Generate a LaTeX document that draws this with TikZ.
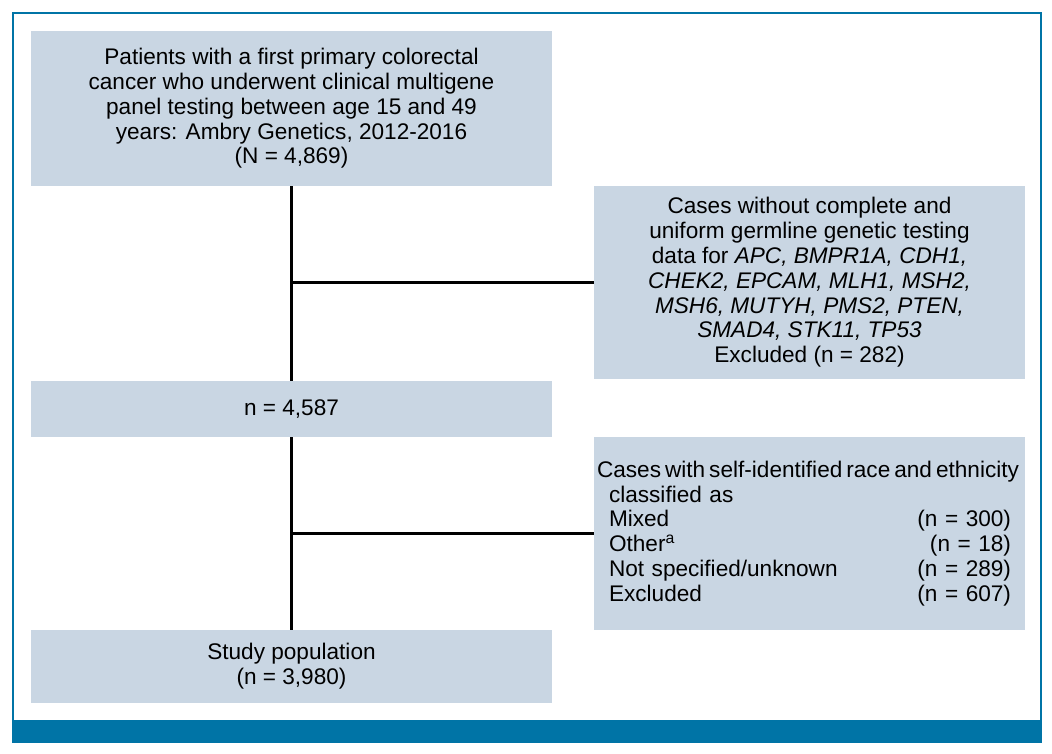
\documentclass[tikz,border=0pt]{standalone}
\usepackage{fontspec}
\setmainfont{Liberation Sans}
\usetikzlibrary{calc}
\definecolor{boxfill}{HTML}{C9D6E3}
\definecolor{frameblue}{HTML}{0074A6}
\newcommand{\rpad}{\hbox to 7pt{}}

\begin{document}
\begin{tikzpicture}[x=0.5pt,y=-0.5pt,
  box/.style={fill=boxfill, inner sep=0pt, align=center,
    font=\fontsize{11.3}{12.4}\selectfont},
  wide/.style={box, minimum width=260.5pt},
  side/.style={box, minimum width=215.5pt, minimum height=96.5pt},
  link/.style={line width=1.5pt}]
  \useasboundingbox (0,0) rectangle (1052,753);
  \draw[frameblue, line width=0.75pt] (13,13) rectangle (1041,742);
  \fill[frameblue] (13,720) rectangle (1041,742);

  \node[wide, minimum height=77.5pt] (top) at (291.5,108.5)
    {Patients with a first primary colorectal\\
     cancer who underwent clinical multigene\\
     panel testing between age 15 and 49\\
     years: Ambry Genetics, 2012-2016\\
     (N = 4,869)};
  \node[side] (excl1) at (809.5,282.5)
    {Cases without complete and\\
     uniform germline genetic testing\\
     data for \textit{APC, BMPR1A, CDH1,}\\
     \textit{CHEK2, EPCAM, MLH1, MSH2,}\\
     \textit{MSH6, MUTYH, PMS2, PTEN,}\\
     \textit{SMAD4, STK11, TP53}\\
     Excluded (n = 282)};
  \node[wide, minimum height=28pt] (mid) at (291.5,409) {n = 4,587};
  \node[side, align=left, text width=215.5pt] (excl2) at (809.5,533.5)
    {\hspace*{1.5pt}\mbox{\spaceskip=2pt Cases with self-identified race and ethnicity}\\
     \hspace*{7.5pt}classified as\\
     \hspace*{7.5pt}Mixed\hfill(n = 300)\rpad\\
     \hspace*{7.5pt}Other\textsuperscript{a}\hfill(n = 18)\rpad\\
     \hspace*{7.5pt}Not specified/unknown\hfill(n = 289)\rpad\\
     \hspace*{7.5pt}Excluded\hfill(n = 607)\rpad};
  \node[wide, minimum height=36.5pt] (study) at (291.5,666.5)
    {Study population\\(n = 3,980)};

  \draw[link] (top.south) -- (mid.north);
  \draw[link] (mid.south) -- (study.north);
  \draw[link] (excl1.west -| top.south) -- (excl1.west);
  \draw[link] (excl2.west -| mid.south) -- (excl2.west);
\end{tikzpicture}
\end{document}
